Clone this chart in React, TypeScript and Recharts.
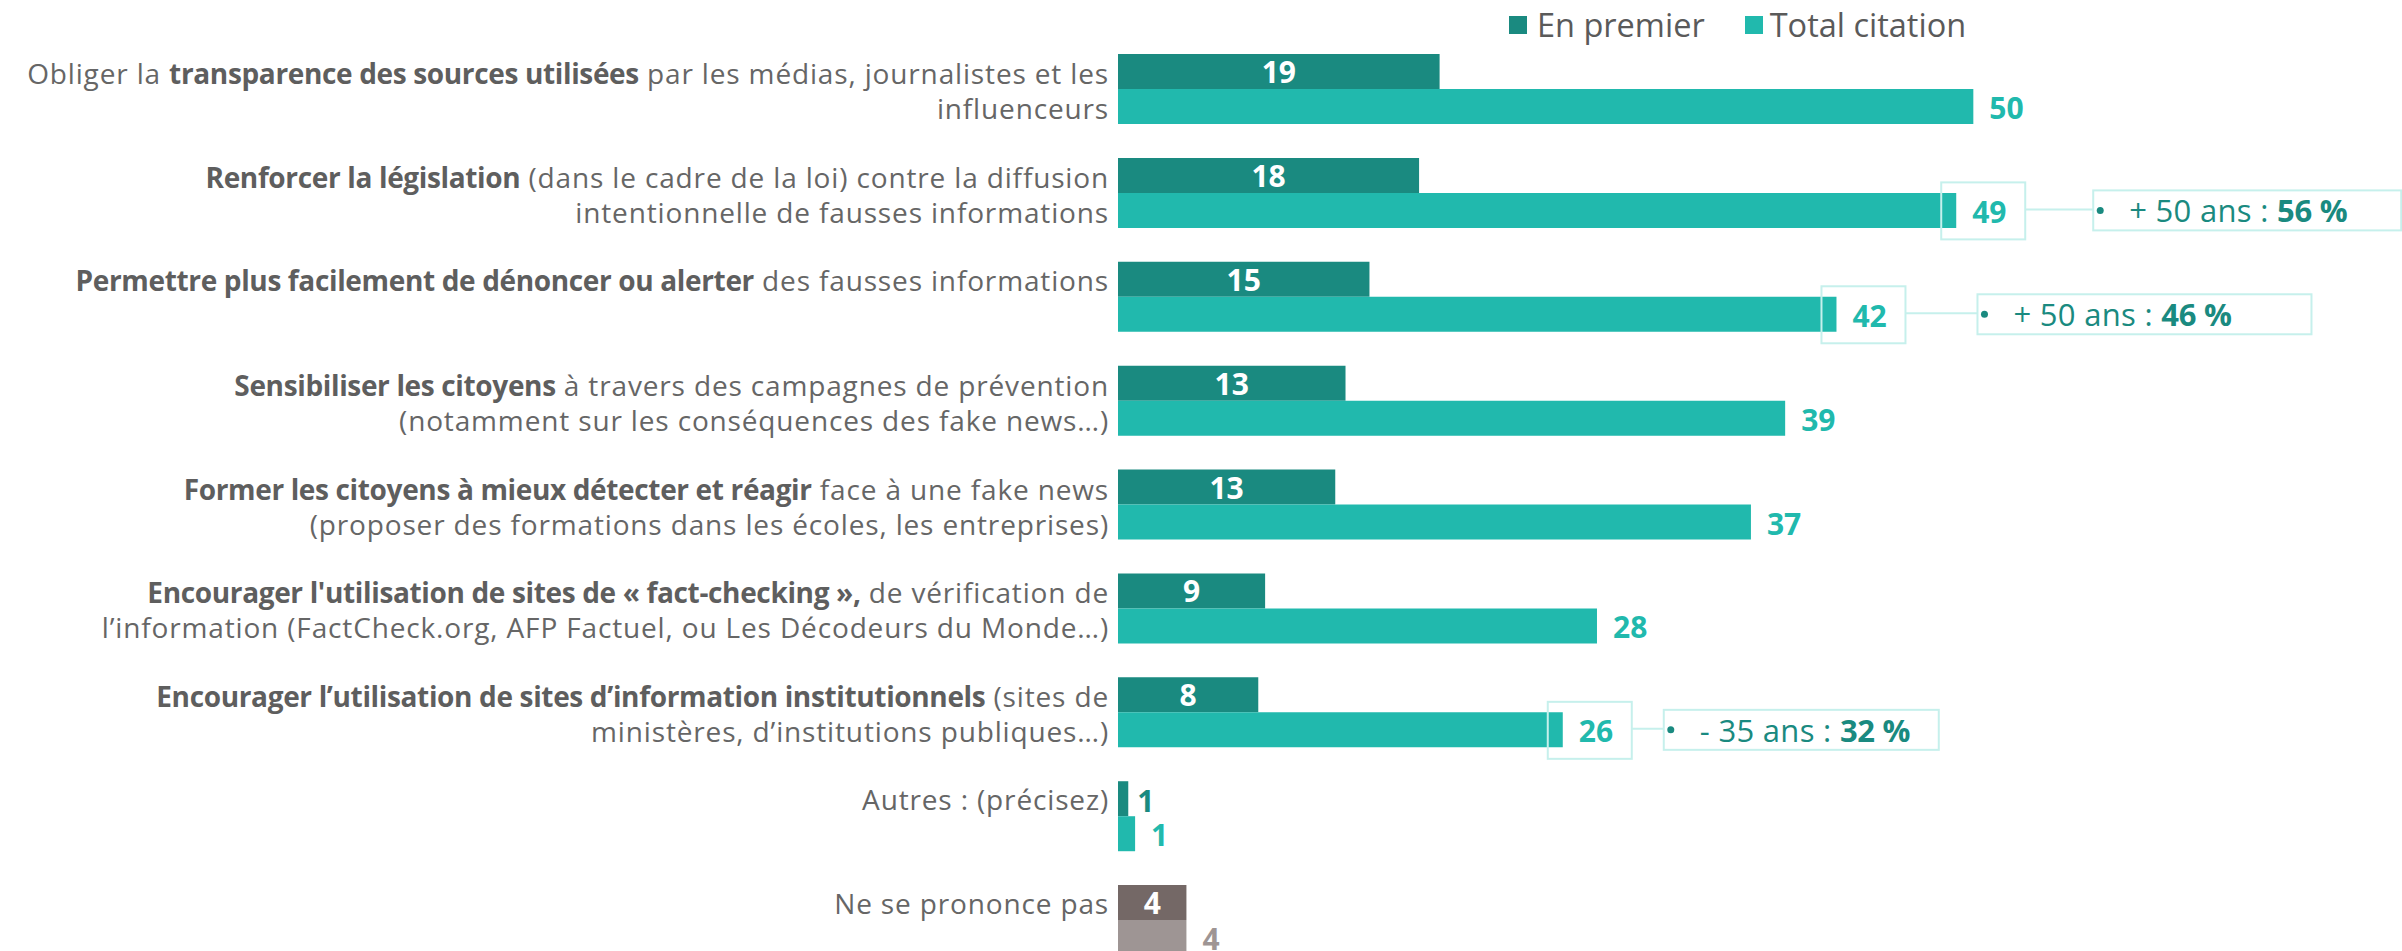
import React from 'react';
import { BarChart, Bar, XAxis, YAxis, Legend, Cell, LabelList } from 'recharts';

// rich labels: **bold** segments, \n for line breaks
const categoryLabels = [
  'Obliger la **transparence des sources utilisées** par les médias, journalistes et les\ninfluenceurs',
  '**Renforcer la législation** (dans le cadre de la loi) contre la diffusion\nintentionnelle de fausses informations',
  '**Permettre plus facilement de dénoncer ou alerter** des fausses informations',
  '**Sensibiliser les citoyens** à travers des campagnes de prévention\n(notamment sur les conséquences des fake news…)',
  '**Former les citoyens à mieux détecter et réagir** face à une fake news\n(proposer des formations dans les écoles, les entreprises)',
  "**Encourager l'utilisation de sites de « fact-checking »,** de vérification de\nl’information (FactCheck.org, AFP Factuel, ou Les Décodeurs du Monde…)",
  '**Encourager l’utilisation de sites d’information institutionnels** (sites de\nministères, d’institutions publiques…)',
  'Autres : (précisez)',
  'Ne se prononce pas',
];

const enPremier = [18.8, 17.6, 14.7, 13.3, 12.7, 8.6, 8.2, 0.6, 4];
const totalCitation = [50, 49, 42, 39, 37, 28, 26, 1, 4];

const seriesNames = ['En premier', 'Total citation'];

// age-group highlights next to some total bars
const calloutGroups = ['', '+ 50 ans', '+ 50 ans', '', '', '', '- 35 ans', '', ''];
const calloutValues = [null, 56, 46, null, null, null, 32, null, null];

const CALLOUT_GAP: Record<number, number> = { 1: 68, 2: 72, 6: 32 };
const CALLOUT_WIDTH: Record<number, number> = { 1: 308, 2: 334, 6: 275 };

const DARK = '#1a8a80';
const LIGHT = '#21b9ad';
const NSP_DARK = '#746866';
const NSP_LIGHT = '#9e9594';
const TEXT = '#666666';
const BOX = '#c6f0ec';
const FONT = '"Open Sans", sans-serif';

const rows = categoryLabels.map((name, i) => ({
  name,
  first: enPremier[i],
  total: totalCitation[i],
}));

const NSP_INDEX = categoryLabels.length - 1;

const parseLine = (line: string) =>
  line.split('**').map((text, k) => ({ text, bold: k % 2 === 1 })).filter((s) => s.text);

const CategoryTick = (props: any) => {
  const { x, y, payload } = props;
  const lines = String(payload.value).split('\n');
  const offsets = lines.length > 1 ? [-16, 19] : [-17];
  return (
    <g>
      {lines.map((line, li) => (
        <text
          key={li}
          x={x - 1}
          y={y + offsets[li]}
          textAnchor="end"
          dominantBaseline="central"
          fontFamily={FONT}
          fontSize={28}
          fill={TEXT}
        >
          {parseLine(line).map((s, k) => (
            <tspan
              key={k}
              fontWeight={s.bold ? 700 : 400}
              letterSpacing={s.bold ? -0.35 : 0.85}
              fill={s.bold ? '#5e5e5e' : TEXT}
            >
              {s.text}
            </tspan>
          ))}
        </text>
      ))}
    </g>
  );
};

const getBox = (props: any) => {
  const vb = props.viewBox && props.viewBox.width !== undefined ? props.viewBox : props;
  return { x: Number(vb.x), y: Number(vb.y), width: Number(vb.width), height: Number(vb.height) };
};

const renderFirstLabel = (props: any) => {
  const { x, y, width, height } = getBox(props);
  const i = props.index;
  const cy = y + height / 2;
  const v = Math.round(Number(props.value));
  if (width < 40) {
    return (
      <text x={x + width + 9} y={cy + 2} dominantBaseline="central" fontFamily={FONT} fontSize={30} fontWeight={700} fill={i === NSP_INDEX ? NSP_DARK : DARK}>
        {v}
      </text>
    );
  }
  return (
    <text x={x + width / 2} y={cy} textAnchor="middle" dominantBaseline="central" fontFamily={FONT} fontSize={30} fontWeight={700} fill="#ffffff">
      {v}
    </text>
  );
};

const renderTotalLabel = (props: any) => {
  const { x, y, width, height } = getBox(props);
  const i = props.index;
  const end = x + width;
  const cy = y + height / 2;
  const group = calloutGroups[i];
  const pct = calloutValues[i];
  const boxRight = end + 69;
  const gap = CALLOUT_GAP[i] ?? 68;
  const cw = CALLOUT_WIDTH[i] ?? 300;
  return (
    <g>
      <text x={end + 16} y={cy + 1} dominantBaseline="central" fontFamily={FONT} fontSize={30} fontWeight={700} fill={i === NSP_INDEX ? NSP_LIGHT : LIGHT}>
        {Math.round(Number(props.value))}
      </text>
      {group && (
        <g>
          <rect x={end - 15} y={cy - 28} width={84} height={57} fill="none" stroke={BOX} strokeWidth={2} />
          <line x1={boxRight} y1={cy - 1} x2={boxRight + gap} y2={cy - 1} stroke={BOX} strokeWidth={2} />
          <rect x={boxRight + gap} y={cy - 20} width={cw} height={40} fill="#fff" stroke={BOX} strokeWidth={2} />
          <circle cx={boxRight + gap + 7} cy={cy} r={3.5} fill={DARK} />
          <text x={boxRight + gap + 36} y={cy} dominantBaseline="central" fontFamily={FONT} fontSize={31} fill={DARK}>
            <tspan letterSpacing={0.3}>{group} : </tspan>
            <tspan fontWeight={700} letterSpacing={-0.3}>{pct} %</tspan>
          </text>
        </g>
      )}
    </g>
  );
};

const renderLegend = () => (
  <div style={{ display: 'flex', alignItems: 'center', fontFamily: FONT, fontSize: 32.5, color: '#5a5a5a', lineHeight: '38px' }}>
    <span style={{ display: 'inline-block', width: 18, height: 18, background: DARK, marginRight: 10 }} />
    <span style={{ marginRight: 40 }}>{seriesNames[0]}</span>
    <span style={{ display: 'inline-block', width: 18, height: 18, background: LIGHT, marginRight: 7 }} />
    <span>{seriesNames[1]}</span>
  </div>
);

export default function App() {
  return (
    <div style={{ position: 'absolute', left: 0, top: 0, width: 2402, height: 951, overflow: 'hidden', background: '#fff' }}>
      <BarChart
        width={2402}
        height={980}
        data={rows}
        layout="vertical"
        margin={{ top: 37, right: 1, bottom: 8, left: 0 }}
        barCategoryGap={17}
        barGap={0}
      >
        <XAxis type="number" domain={[0, 75]} hide />
        <YAxis
          type="category"
          dataKey="name"
          width={1118}
          axisLine={false}
          tickLine={false}
          interval={0}
          tick={<CategoryTick />}
        />
        <Legend
          layout="horizontal"
          verticalAlign="middle"
          align="center"
          content={renderLegend}
          wrapperStyle={{ top: 6, left: 1509, width: 'auto', height: 38 }}
        />
        <Bar dataKey="first" name={seriesNames[0]} fill={DARK} isAnimationActive={false}>
          {rows.map((_, i) => (
            <Cell key={i} fill={i === NSP_INDEX ? NSP_DARK : DARK} />
          ))}
          <LabelList dataKey="first" content={renderFirstLabel} />
        </Bar>
        <Bar dataKey="total" name={seriesNames[1]} fill={LIGHT} isAnimationActive={false}>
          {rows.map((_, i) => (
            <Cell key={i} fill={i === NSP_INDEX ? NSP_LIGHT : LIGHT} />
          ))}
          <LabelList dataKey="total" content={renderTotalLabel} />
        </Bar>
      </BarChart>
    </div>
  );
}
